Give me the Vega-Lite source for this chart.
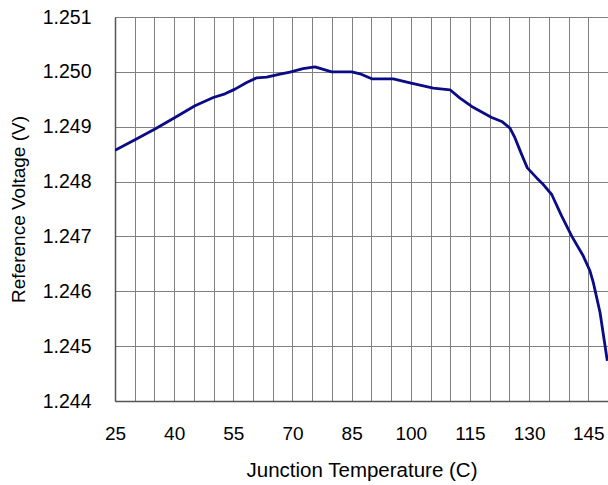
{
  "$schema": "https://vega.github.io/schema/vega-lite/v6.json",
  "autosize": "none",
  "width": 493,
  "height": 384,
  "padding": {"left": 115, "top": 17, "right": 0, "bottom": 84},
  "background": "white",
  "config": {
    "view": {"stroke": "#808080", "strokeWidth": 1},
    "font": "Liberation Sans"
  },
  "data": {
    "values": [
      {"T": 25.0, "V": 1.248569},
      {"T": 30.07, "V": 1.248764},
      {"T": 35.14, "V": 1.248958},
      {"T": 40.21, "V": 1.249169},
      {"T": 45.28, "V": 1.249382},
      {"T": 49.92, "V": 1.249533},
      {"T": 52.89, "V": 1.2496},
      {"T": 55.43, "V": 1.249685},
      {"T": 58.39, "V": 1.249805},
      {"T": 60.93, "V": 1.249891},
      {"T": 63.46, "V": 1.249904},
      {"T": 66.84, "V": 1.249958},
      {"T": 69.37, "V": 1.249995},
      {"T": 72.67, "V": 1.25006},
      {"T": 75.71, "V": 1.250091},
      {"T": 79.94, "V": 1.25},
      {"T": 85.01, "V": 1.25},
      {"T": 87.12, "V": 1.249964},
      {"T": 90.09, "V": 1.249873},
      {"T": 95.56, "V": 1.249873},
      {"T": 99.8, "V": 1.2498},
      {"T": 105.7, "V": 1.249704},
      {"T": 109.94, "V": 1.249673},
      {"T": 112.47, "V": 1.249522},
      {"T": 115.44, "V": 1.249369},
      {"T": 120.51, "V": 1.249169},
      {"T": 123.05, "V": 1.249096},
      {"T": 125.15, "V": 1.248976},
      {"T": 126.42, "V": 1.248795},
      {"T": 128.12, "V": 1.248491},
      {"T": 129.54, "V": 1.248249},
      {"T": 131.92, "V": 1.248067},
      {"T": 133.6, "V": 1.247945},
      {"T": 135.73, "V": 1.247764},
      {"T": 138.26, "V": 1.247369},
      {"T": 140.8, "V": 1.247005},
      {"T": 143.74, "V": 1.246642},
      {"T": 145.44, "V": 1.246369},
      {"T": 146.28, "V": 1.246158},
      {"T": 147.98, "V": 1.245613},
      {"T": 149.82, "V": 1.244733}
    ]
  },
  "mark": {"type": "line", "color": "#0b0b86", "strokeWidth": 2.8, "interpolate": "linear", "strokeJoin": "round", "clip": true},
  "encoding": {
    "x": {
      "field": "T",
      "type": "quantitative",
      "scale": {"domain": [25, 150], "nice": false, "zero": false},
      "axis": {
        "title": "Junction Temperature (C)",
        "values": [25, 30, 35, 40, 45, 50, 55, 60, 65, 70, 75, 80, 85, 90, 95, 100, 105, 110, 115, 120, 125, 130, 135, 140, 145, 150],
        "labelExpr": "(datum.value - 25) % 15 == 0 && datum.value < 150 ? datum.label : ''",
        "grid": true,
        "gridColor": "#808080",
        "gridWidth": 1,
        "ticks": false,
        "domainColor": "#555555",
        "domainWidth": 1.5,
        "labelFont": "Liberation Sans",
        "labelFontSize": 19,
        "labelColor": "#000000",
        "labelPadding": 23,
        "labelFlush": false,
        "labelOverlap": false,
        "titleFont": "Liberation Sans",
        "titleFontSize": 20.5,
        "titleFontWeight": "normal",
        "titleColor": "#000000",
        "titlePadding": 17
      }
    },
    "y": {
      "field": "V",
      "type": "quantitative",
      "scale": {"domain": [1.244, 1.251], "nice": false, "zero": false},
      "axis": {
        "title": "Reference Voltage (V)",
        "values": [1.244, 1.245, 1.246, 1.247, 1.248, 1.249, 1.25, 1.251],
        "format": ".3f",
        "grid": true,
        "gridColor": "#808080",
        "gridWidth": 1,
        "ticks": false,
        "domainColor": "#555555",
        "domainWidth": 1.5,
        "labelFont": "Liberation Sans",
        "labelFontSize": 19.5,
        "labelColor": "#000000",
        "labelPadding": 24,
        "labelFlush": false,
        "labelOverlap": false,
        "titleFont": "Liberation Sans",
        "titleFontSize": 19,
        "titleFontWeight": "normal",
        "titleColor": "#000000",
        "titlePadding": 14
      }
    }
  }
}
